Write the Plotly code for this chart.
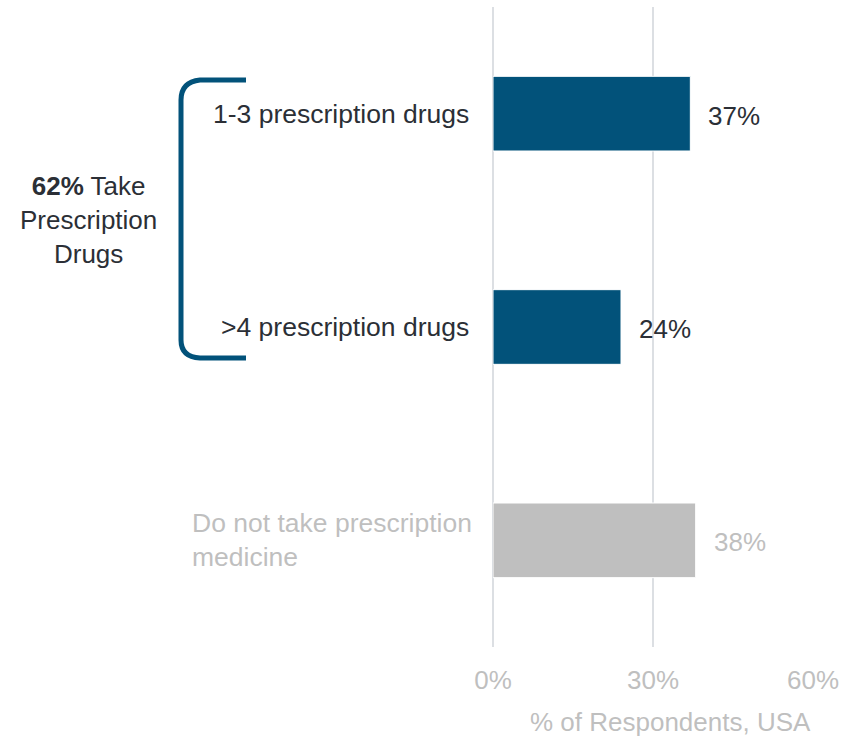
import plotly.graph_objects as go

categories = ["1-3 prescription drugs", ">4 prescription drugs", "Do not take prescription<br>medicine"]
values = [37, 24, 38]
bar_colors = ["#02527A", "#02527A", "#BFBFBF"]
label_colors = ["#2B2F36", "#2B2F36", "#BFBFBF"]
value_labels = ["37%", "24%", "38%"]
tick_vals = [0, 30, 60]
tick_text = ["0%", "30%", "60%"]
axis_title = "% of Respondents, USA"
group_label = "<b>62%</b> Take<br>Prescription<br>Drugs"

FONT = "Liberation Sans, Arial, sans-serif"
FS = 26
FS_CAT = 26.5

L, R, T, B = 493, 41, 7, 90
W, H = 854, 737
PW = W - L - R
PH = H - T - B

def px(x):
    return (x - L) / PW

def py(y):
    return (H - B - y) / PH

fig = go.Figure()
fig.add_trace(go.Bar(
    y=categories, x=values, orientation="h",
    marker=dict(color=bar_colors, line=dict(color="white", width=1)),
    width=0.35, hoverinfo="skip",
))

annotations = []
for c, v, lbl, col in zip(categories, values, value_labels, label_colors):
    multi = "<br>" in c
    annotations.append(dict(x=v, y=c, xref="x", yref="y", text=lbl, showarrow=False,
                            xanchor="left", xshift=16, yshift=-2,
                            font=dict(family=FONT, size=FS, color=col)))
    annotations.append(dict(x=px(474 if multi else 471), y=c, xref="paper", yref="y", text=c,
                            showarrow=False, xanchor="right",
                            align="left" if multi else "right",
                            font=dict(family=FONT, size=FS_CAT, color=col)))

annotations.append(dict(x=px(88), y=py(220), xref="paper", yref="paper",
                        text=group_label, showarrow=False,
                        xanchor="center", yanchor="middle", align="center",
                        font=dict(family=FONT, size=26, color="#2B2F36")))

annotations.append(dict(x=px(813), y=py(722), xref="paper", yref="paper",
                        text=axis_title, showarrow=False,
                        xanchor="right", yanchor="middle",
                        font=dict(family=FONT, size=FS, color="#BFBFBF")))

# bracket (decorative)
pts = [(246, 80), (200, 80), (181, 82), (181, 100), (181, 340), (181, 357), (200, 358), (246, 358)]
p = [(px(a), py(b)) for a, b in pts]
path = (f"M {p[0][0]},{p[0][1]} L {p[1][0]},{p[1][1]} Q {p[2][0]},{p[2][1]} {p[3][0]},{p[3][1]} "
        f"L {p[4][0]},{p[4][1]} Q {p[5][0]},{p[5][1]} {p[6][0]},{p[6][1]} L {p[7][0]},{p[7][1]}")

fig.update_layout(
    width=W, height=H,
    margin=dict(l=L, r=R, t=T, b=B, autoexpand=False),
    plot_bgcolor="white", paper_bgcolor="white",
    showlegend=False,
    font=dict(family=FONT, size=FS, color="#BFBFBF"),
    xaxis=dict(range=[0, 60], tickvals=tick_vals, ticktext=tick_text,
               showgrid=True, gridcolor="#DCDFE3", gridwidth=2,
               zeroline=True, zerolinecolor="#DCDFE3", zerolinewidth=2,
               showline=False, ticks="outside", ticklen=10, tickcolor="rgba(0,0,0,0)",
               tickfont=dict(family=FONT, size=FS, color="#BFBFBF"),
               automargin=False, fixedrange=True),
    yaxis=dict(autorange="reversed", showticklabels=False, showgrid=False,
               zeroline=False, showline=False, fixedrange=True, automargin=False),
    annotations=annotations,
    shapes=[dict(type="path", path=path, xref="paper", yref="paper",
                 line=dict(color="#02527A", width=5))],
)

fig.write_html("out.html")
